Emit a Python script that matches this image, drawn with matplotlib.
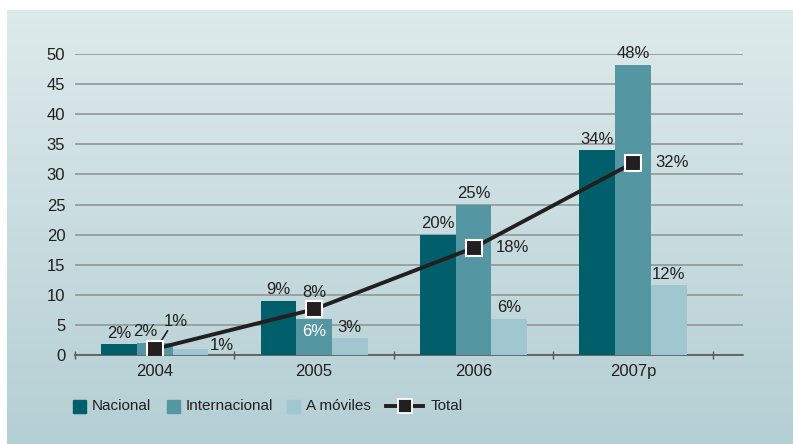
import numpy as np
import matplotlib.pyplot as plt
from matplotlib.patches import Rectangle

years = ["2004", "2005", "2006", "2007p"]
nacional = [1.8, 9.0, 20.0, 34.0]
internacional = [2.0, 6.0, 25.0, 48.2]
moviles = [1.0, 2.8, 6.0, 11.6]
total = [1.0, 7.6, 17.8, 31.9]
series_names = ["Nacional", "Internacional", "A móviles", "Total"]

c_nac = "#005f6a"
c_int = "#5496a1"
c_mov = "#a0c6cf"
c_tot = "#231f20"
txt = "#231f20"

plt.rcParams['font.family'] = ['Liberation Sans', 'DejaVu Sans']

W, H = 793, 444
fig = plt.figure(figsize=(W / 100, H / 100), dpi=100)

# background panel with vertical gradient
bg = fig.add_axes([7 / W, 0, 1 - 7 / W, 1 - 10 / H], zorder=-10)
grad = np.linspace(0, 1, 256).reshape(-1, 1)
top = np.array([0.870, 0.918, 0.922])
bot = np.array([0.706, 0.812, 0.831])
img = top + (bot - top) * grad[:, :, None]
bg.imshow(img, aspect='auto', extent=[0, 1, 0, 1])
bg.axis('off')

ax = fig.add_axes([75 / W, 1 - 355 / H, (743 - 75) / W, (355 - 54) / H])
ax.patch.set_alpha(0)

x = np.arange(len(years))
w = 0.224
ax.bar(x - w, nacional, w, color=c_nac, zorder=3)
ax.bar(x, internacional, w, color=c_int, zorder=3)
ax.bar(x + w, moviles, w, color=c_mov, zorder=3)
ax.plot(x, total, color=c_tot, lw=2.8, marker='s', ms=11, mfc=c_tot,
        mec='white', mew=1.5, zorder=5)

ax.set_ylim(0, 50)
ax.set_xlim(-0.5, 3.69)
ax.set_yticks(range(0, 51, 5))
ax.yaxis.grid(True, color="#949c9e", lw=1.3, zorder=0)
ax.set_axisbelow(True)
for s in ['top', 'right', 'left']:
    ax.spines[s].set_visible(False)
ax.spines['bottom'].set_color("#555555")
ax.spines['bottom'].set_linewidth(1.2)
ax.set_xticks([-0.5, 0.5, 1.5, 2.5, 3.5])
ax.set_xticklabels([])
ax.tick_params(axis='x', length=6, width=1, color="#555555", direction='inout')
ax.tick_params(axis='y', length=0, labelsize=12, labelcolor=txt, pad=7)
for i, y in enumerate(years):
    ax.text(x[i], -1.5, y, ha='center', va='top', fontsize=12, color=txt)

fs = 12
# value labels
for i in range(4):
    ax.text(x[i] - w, nacional[i] + 0.6, f"{nacional[i]:.0f}%", ha='center',
            va='bottom', fontsize=fs, color=txt)
ax.text(x[0] - 0.06, internacional[0] + 0.6, f"{internacional[0]:.0f}%",
        ha='center', va='bottom', fontsize=fs, color=txt)
for i in [2, 3]:
    ax.text(x[i], internacional[i] + 0.6, f"{internacional[i]:.0f}%",
            ha='center', va='bottom', fontsize=fs, color=txt)
ax.text(x[1], internacional[1] - 0.8, f"{internacional[1]:.0f}%", ha='center',
        va='top', fontsize=fs, color='white')
for i in [1, 2, 3]:
    ax.text(x[i] + w, moviles[i] + 0.6, f"{moviles[i]:.0f}%", ha='center',
            va='bottom', fontsize=fs, color=txt)
ax.text(x[0] + 1.5 * w + 0.01, 0.3, f"{moviles[0]:.0f}%", ha='left',
        va='bottom', fontsize=fs, color=txt)

# total labels
ax.plot([x[0] + 0.03, x[0] + 0.08], [total[0] + 0.9, total[0] + 3.0],
        color=c_tot, lw=1.2, zorder=4)
ax.text(x[0] + 0.055, total[0] + 3.3, f"{total[0]:.0f}%", ha='left',
        va='bottom', fontsize=fs, color=txt)
ax.text(x[1], total[1] + 1.5, f"{total[1]:.0f}%", ha='center', va='bottom',
        fontsize=fs, color=txt)
for i in [2, 3]:
    ax.text(x[i] + 0.14, total[i], f"{total[i]:.0f}%", ha='left',
            va='center', fontsize=fs, color=txt)

# legend drawn in pixel coordinates of the figure
lg = fig.add_axes([0, 0, 1, 1], zorder=5)
lg.set_xlim(0, W)
lg.set_ylim(H, 0)
lg.axis('off')
ly = 406
for x0, col, name in [(73, c_nac, series_names[0]), (167, c_int, series_names[1]),
                      (287, c_mov, series_names[2])]:
    lg.add_patch(Rectangle((x0, ly - 6.5), 13, 13, color=col))
    lg.text(x0 + 19, ly, name, ha='left', va='center', fontsize=11, color=txt)
lg.plot([386, 423], [ly, ly], color=c_tot, lw=2.8)
lg.plot([404.5], [ly], marker='s', ms=9.5, mfc=c_tot, mec='white', mew=1.3)
lg.text(431, ly, series_names[3], ha='left', va='center', fontsize=11, color=txt)

fig.savefig("out.png", dpi=100)
